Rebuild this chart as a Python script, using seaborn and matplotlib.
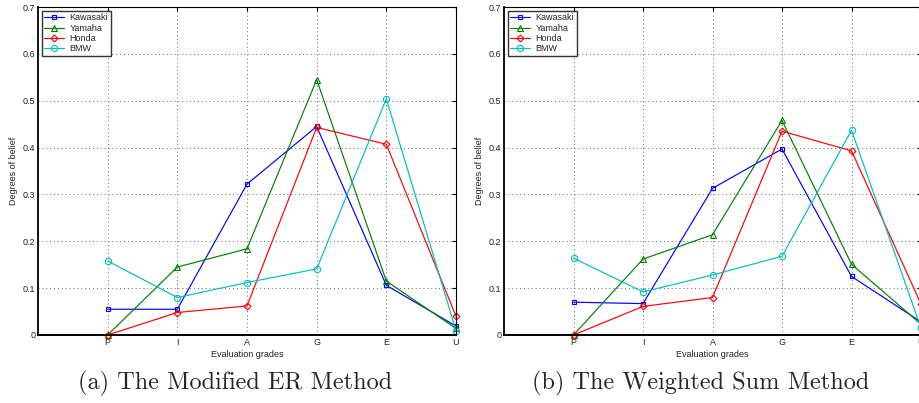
import numpy as np
import matplotlib
matplotlib.use("Agg")
import matplotlib.pyplot as plt
import seaborn as sns

# =========================
# DATA
# =========================
grades = ["P", "I", "A", "G", "E", "U"]
brands = ["Kawasaki", "Yamaha", "Honda", "BMW"]

# (a) The Modified ER Method
er_kawasaki = [0.055, 0.055, 0.322, 0.445, 0.106, 0.019]
er_yamaha = [0.0, 0.145, 0.184, 0.545, 0.115, 0.014]
er_honda = [0.0, 0.048, 0.062, 0.443, 0.407, 0.040]
er_bmw = [0.158, 0.080, 0.112, 0.141, 0.504, 0.009]

# (b) The Weighted Sum Method
ws_kawasaki = [0.070, 0.067, 0.313, 0.397, 0.125, 0.028]
ws_yamaha = [0.0, 0.162, 0.214, 0.458, 0.151, 0.023]
ws_honda = [0.0, 0.061, 0.080, 0.435, 0.393, 0.066]
ws_bmw = [0.164, 0.092, 0.128, 0.168, 0.437, 0.015]

yticks = [0, 0.1, 0.2, 0.3, 0.4, 0.5, 0.6, 0.7]
ytick_labels = ["0", "0.1", "0.2", "0.3", "0.4", "0.5", "0.6", "0.7"]

captions = ["(a) The Modified ER Method", "(b) The Weighted Sum Method"]

# =========================
# STYLE
# =========================
sns.set_style("white")
plt.rcParams["font.family"] = ["Liberation Sans", "DejaVu Sans"]

colors = ["#0000ff", "#008000", "#ff0000", "#00bfbf"]
markers = ["s", "^", "D", "o"]
msizes = [3.5, 4.5, 3.5, 4.5]

fig = plt.figure(figsize=(9.19, 4.03), dpi=100)
ax_a = fig.add_axes([38 / 919, 68 / 403, 418 / 919, 328 / 403])
ax_b = fig.add_axes([504 / 919, 68 / 403, 417 / 919, 328 / 403])

x = np.arange(1, len(grades) + 1)
panels = [
    (ax_a, [er_kawasaki, er_yamaha, er_honda, er_bmw]),
    (ax_b, [ws_kawasaki, ws_yamaha, ws_honda, ws_bmw]),
]

for ax, series in panels:
    for vals, name, c, m, ms in zip(series, brands, colors, markers, msizes):
        sns.lineplot(x=x, y=vals, ax=ax, color=c, marker=m, markersize=ms,
                     markerfacecolor="none", markeredgecolor=c,
                     markeredgewidth=0.8, linewidth=0.85, label=name,
                     clip_on=False, legend=False)

    ax.set_xlim(0, 6)
    ax.set_ylim(0, 0.7)
    ax.set_xticks(x)
    ax.set_xticklabels(grades)
    ax.set_yticks(yticks)
    ax.set_yticklabels(ytick_labels)
    ax.tick_params(direction="in", length=3, width=0.8, labelsize=6.5,
                   top=True, right=True, pad=2, colors="black",
                   labelcolor="#222222")
    ax.grid(True, linestyle=(0, (1, 3)), color="#666666", linewidth=0.7)
    for side, sp in ax.spines.items():
        sp.set_color("black")
        sp.set_linewidth(0.8)
    ax.spines["bottom"].set_linewidth(1.4)
    ax.spines["left"].set_linewidth(1.3)
    ax.set_xlabel("Evaluation grades", fontsize=6.5, labelpad=2,
                  color="#222222")
    ax.set_ylabel("Degrees of belief", fontsize=6.5, labelpad=3,
                  color="#222222")

    leg = ax.legend(ax.get_lines()[:4], brands, loc="upper left",
                    fontsize=6.5, frameon=True, fancybox=False,
                    borderaxespad=0.4, handlelength=2.2, labelspacing=0.15,
                    borderpad=0.3, handletextpad=0.6)
    leg.get_frame().set_edgecolor("black")
    leg.get_frame().set_linewidth(1.0)

fig.text(235 / 919, 1 - 383 / 403, captions[0], ha="center", va="center",
         fontsize=17.5, family="cmr10")
fig.text(701 / 919, 1 - 383 / 403, captions[1], ha="center", va="center",
         fontsize=17.5, family="cmr10")

fig.savefig("out.png", dpi=100)
